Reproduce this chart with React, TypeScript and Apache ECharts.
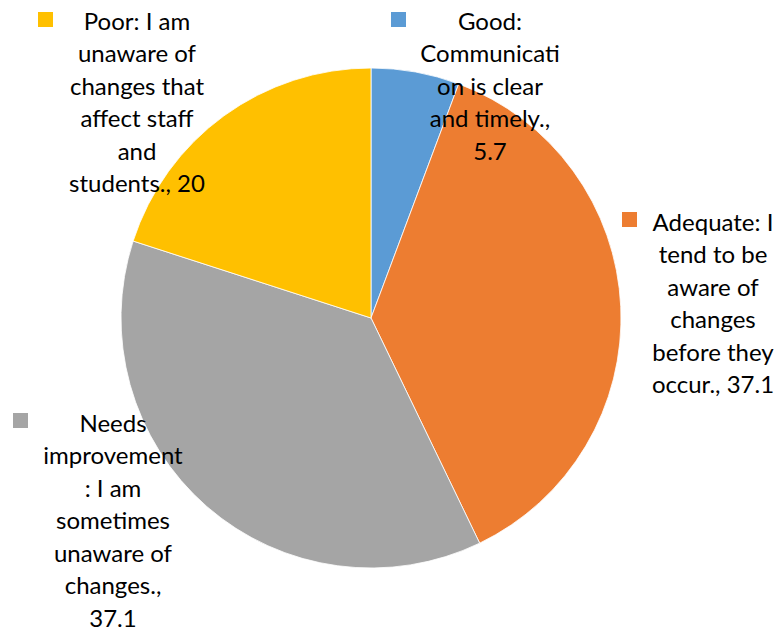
import React, { useEffect, useRef } from "react";
import * as echarts from "echarts";

const categories = [
  "Good: Communication is clear and timely.",
  "Adequate: I tend to be aware of changes before they occur.",
  "Needs improvement: I am sometimes unaware of changes.",
  "Poor: I am unaware of changes that affect staff and students.",
];
const values = [5.7, 37.1, 37.1, 20];
const colors = ["#5B9BD5", "#ED7D31", "#A5A5A5", "#FFC000"];
const labelLines = [
  ["Good:", "Communicati", "on is clear", "and timely.,"],
  ["Adequate: I", "tend to be", "aware of", "changes", "before they", "occur.,"],
  ["Needs", "improvement", ": I am", "sometimes", "unaware of", "changes.,"],
  ["Poor: I am", "unaware of", "changes that", "affect staff", "and", "students.,"],
];
// whether the value goes on its own line
const valueOnNewLine = [true, false, true, false];

// label layout (block centre x, top y, key square x, y)
const labelPos = [
  { cx: 490, top: 4, sx: 391, sy: 12 },
  { cx: 713, top: 205, sx: 622, sy: 212 },
  { cx: 113, top: 406, sx: 13, sy: 413 },
  { cx: 137, top: 4, sx: 38, sy: 12 },
];

function labelText(i: number): string {
  const lines = labelLines[i].slice();
  if (valueOnNewLine[i]) lines.push(String(values[i]));
  else lines[lines.length - 1] = lines[lines.length - 1] + " " + values[i];
  return lines.join("\n");
}

export default function App() {
  const ref = useRef<HTMLDivElement>(null);
  useEffect(() => {
    if (!ref.current) return;
    const chart = echarts.init(ref.current, undefined, { renderer: "svg" });
    chart.setOption({
      animation: false,
      backgroundColor: "#ffffff",
      graphic: labelPos.map((p, i) => ({
        type: "rect",
        shape: { x: p.sx, y: p.sy, width: 15, height: 15 },
        style: { fill: colors[i] },
        z: 10,
      })),
      series: [
        {
          type: "pie",
          center: [371, 318],
          radius: [0, 250],
          startAngle: 90,
          clockwise: true,
          avoidLabelOverlap: false,
          itemStyle: { borderColor: "#ffffff", borderWidth: 0.8 },
          label: {
            show: true,
            position: "outside",
            formatter: (p: any) => labelText(p.dataIndex),
            fontFamily: "Lato, 'Noto Sans', sans-serif",
            fontSize: 24,
            lineHeight: 32.5,
            color: "#000000",
            align: "center",
          },
          labelLine: { show: false },
          labelLayout: (params: any) => {
            const p = labelPos[params.dataIndex];
            return {
              x: p.cx,
              y: p.top,
              align: "center",
              verticalAlign: "top",
              hideOverlap: false,
              moveOverlap: false,
            };
          },
          emphasis: { disabled: true },
          data: categories.map((name, i) => ({
            name,
            value: values[i],
            itemStyle: { color: colors[i] },
          })),
        },
      ],
    });
    return () => chart.dispose();
  }, []);
  return (
    <div
      ref={ref}
      style={{ position: "fixed", left: 0, top: 0, width: 780, height: 628 }}
    />
  );
}
